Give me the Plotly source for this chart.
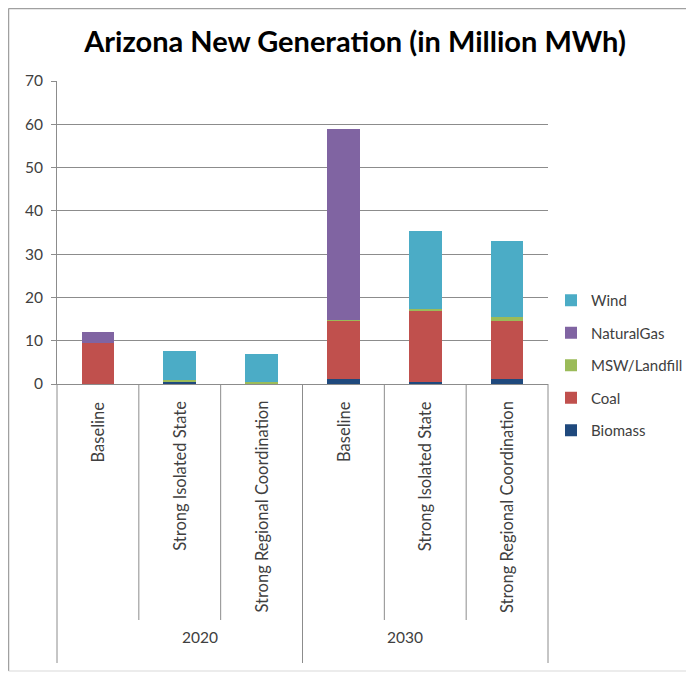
import plotly.graph_objects as go

years = ["2020", "2020", "2020", "2030", "2030", "2030"]
scenarios = ["Baseline", "Strong Isolated State", "Strong Regional Coordination",
             "Baseline", "Strong Isolated State", "Strong Regional Coordination"]
biomass = [0.0, 0.4, 0.1, 1.1, 0.5, 1.1]
coal = [9.4, 0.0, 0.0, 13.5, 16.4, 13.5]
msw = [0.0, 0.5, 0.4, 0.3, 0.5, 0.9]
natural_gas = [2.6, 0.0, 0.0, 44.1, 0.0, 0.0]
wind = [0.0, 6.7, 6.4, 0.0, 17.9, 17.6]
y_ticks = [0, 10, 20, 30, 40, 50, 60, 70]

series = [
    ("Biomass", biomass, "#1F497D", 5),
    ("Coal", coal, "#C0504D", 4),
    ("MSW/Landfill", msw, "#9BBB59", 3),
    ("NaturalGas", natural_gas, "#8064A2", 2),
    ("Wind", wind, "#4BACC6", 1),
]

cats = [f"{y} {s}" for y, s in zip(years, scenarios)]

fig = go.Figure()
for name, vals, color, rank in series:
    fig.add_trace(go.Bar(x=cats, y=vals, name=name, marker_color=color,
                         marker_line_width=0, legendgroup=name, legendrank=rank))

FONT = "Lato, Open Sans, sans-serif"
OFF = 8  # page body margin
W, H = 694 - OFF, 673 - OFF
L, R, T, B = 57 - OFF, 548 - OFF, 81 - OFF, 384 - OFF
pw, ph = R - L, B - T

def px(x):
    return (x - OFF - L) / pw

def py(y):
    return (B - (y - OFF)) / ph

annotations = []
for c, s in zip(cats, scenarios):
    annotations.append(dict(x=c, xref="x", y=py(399), yref="paper", text=s,
                            textangle=-90, showarrow=False, yanchor="top",
                            xanchor="center", font=dict(family=FONT, size=16.5, color="#404040")))
for yr, cx in [("2020", 0.25), ("2030", 0.75)]:
    annotations.append(dict(x=cx, xref="paper", y=py(648), yref="paper", text=yr,
                            showarrow=False, font=dict(family=FONT, size=15.5, color="#404040")))

shapes = []
gray = "#8C8C8C"
for xp in [1/6, 2/6, 4/6, 5/6]:
    shapes.append(dict(type="line", xref="paper", yref="paper", x0=xp, x1=xp,
                       y0=0, y1=py(620), line=dict(color=gray, width=1)))
for xp in [0, 0.5, 1]:
    shapes.append(dict(type="line", xref="paper", yref="paper", x0=xp, x1=xp,
                       y0=0, y1=py(663), line=dict(color=gray, width=1)))
# outer chart frame
shapes.append(dict(type="line", xref="paper", yref="paper", x0=px(8.5), x1=px(700),
                   y0=py(8.5), y1=py(8.5), line=dict(color="#A0A0A0", width=1.5)))
shapes.append(dict(type="line", xref="paper", yref="paper", x0=px(8.5), x1=px(8.5),
                   y0=py(8.5), y1=py(671), line=dict(color="#A0A0A0", width=1.5)))
shapes.append(dict(type="line", xref="paper", yref="paper", x0=px(8.5), x1=px(700),
                   y0=py(671), y1=py(671), line=dict(color="#D9D9D9", width=1)))

fig.update_layout(
    width=W, height=H,
    margin=dict(l=L, r=W - R, t=T, b=H - B, pad=0, autoexpand=False),
    paper_bgcolor="white", plot_bgcolor="white",
    barmode="stack", bargap=0.6,
    title=dict(text="<b>Arizona New Generation (in Million MWh)</b>",
               xref="container", x=(355 - OFF) / W, xanchor="center",
               yref="container", y=1 - (42 - OFF) / H, yanchor="middle",
               font=dict(family=FONT, size=29, color="black")),
    xaxis=dict(showticklabels=False, showline=True, linecolor=gray, linewidth=1,
               ticks="", showgrid=False, fixedrange=True),
    yaxis=dict(range=[0, 70], tickvals=y_ticks, showgrid=True, gridcolor=gray,
               gridwidth=1, showline=True, linecolor=gray, linewidth=1,
               ticks="outside", ticklen=5, tickcolor=gray, zeroline=False,
               ticklabelstandoff=5,
               tickfont=dict(family=FONT, size=15.5, color="#404040")),
    legend=dict(xref="container", x=(551 - OFF) / W, xanchor="left",
                yref="container", y=1 - (284 - OFF) / H, yanchor="top",
                traceorder="grouped", tracegroupgap=10,
                font=dict(family=FONT, size=15, color="#404040"),
                itemwidth=30, bgcolor="rgba(0,0,0,0)", borderwidth=0),
    annotations=annotations, shapes=shapes,
    showlegend=True,
)

fig.write_html("out.html")
